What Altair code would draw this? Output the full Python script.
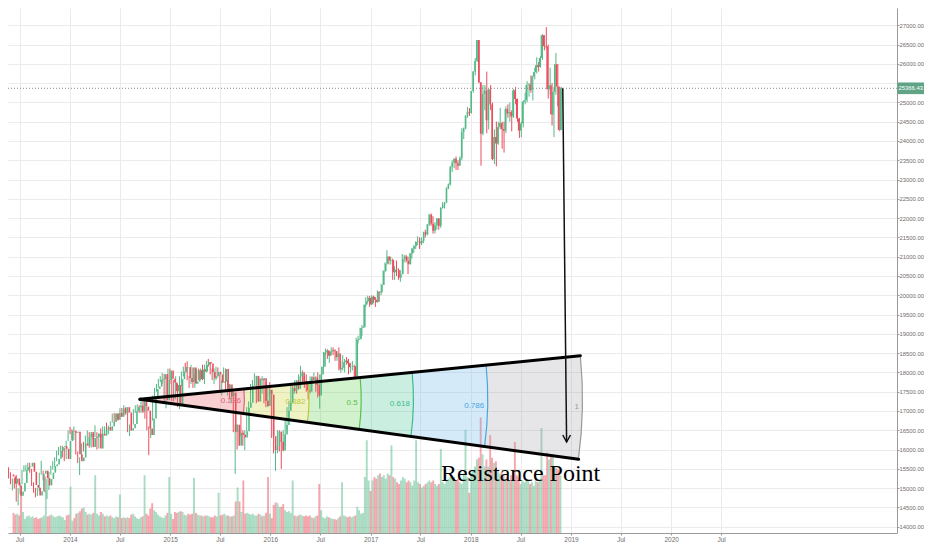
import math
import pandas as pd
import altair as alt

# ---------------- weekly candles (DJIA), one row per week ----------------
week_start = "2013-05-22"
first_open = 15354

close_2013 = [15303, 15116, 15248, 15070, 14800, 14910, 15136, 15464, 15544, 15559, 15658, 15425, 15081, 15010, 14810,
              14922, 15376, 15452, 15258, 15072, 15237, 15400, 15570, 15615, 15761, 15962, 16064, 16086, 16020, 15755,
              16221, 16479, 16469]
high_2013 = [15542, 15410, 15250, 15260, 15340, 15000, 15140, 15470, 15590, 15600, 15660, 15650, 15500, 15150, 15000,
             15000, 15400, 15709, 15450, 15300, 15250, 15420, 15580, 15700, 15800, 15970, 16070, 16100, 16100, 16050,
             16230, 16500, 16590]
low_2013 = [15250, 15100, 14940, 14990, 14650, 14550, 14850, 15100, 15420, 15440, 15450, 15400, 15060, 14880, 14760,
            14800, 14950, 15350, 15200, 14900, 14720, 14950, 15350, 15480, 15550, 15700, 15850, 15950, 15800, 15700,
            15750, 16250, 16400]
vol_2013 = [115, 105, 110, 100, 230, 120, 80, 95, 100, 90, 95, 85, 90, 80, 85, 90, 100, 240, 95, 100,
            105, 95, 90, 95, 100, 95, 90, 75, 100, 105, 265, 70, 85]

close_2014 = [16437, 16459, 15879, 15699, 15794, 16154, 16103, 16322, 16453, 16065, 16302, 16323, 16412, 16027, 16409,
              16361, 16512, 16584, 16491, 16606, 16717, 16924, 16776, 16947, 16851, 17068, 16944, 17100, 16961, 16493,
              16553, 16663, 17001, 17098, 17137, 16988, 17280, 17113, 17010, 16544, 16380, 16805, 17390, 17573, 17634,
              17810, 17828, 17958, 17280, 17804, 18053, 17833]
high_2014 = [16530, 16600, 16500, 15950, 15800, 16160, 16200, 16360, 16500, 16450, 16400, 16400, 16630, 16450, 16420,
             16550, 16600, 16600, 16700, 16620, 16730, 16930, 16950, 16950, 16950, 17075, 17080, 17150, 17100, 17000,
             16650, 16750, 17050, 17150, 17170, 17150, 17350, 17300, 17200, 17100, 16600, 16850, 17400, 17600, 17700,
             17830, 17900, 17990, 17950, 17900, 18100, 18100]
low_2014 = [16250, 16250, 15870, 15650, 15340, 15780, 15950, 16050, 16150, 16050, 16050, 16250, 16380, 16000, 16050,
            16300, 16350, 16400, 16400, 16400, 16600, 16700, 16700, 16750, 16750, 16850, 16850, 16900, 16900, 16450,
            16350, 16500, 16650, 16950, 17000, 16950, 16950, 16950, 16800, 16500, 15855, 16300, 16750, 17300, 17500,
            17600, 17750, 17700, 17250, 17068, 17800, 17700]
vol_2014 = [110, 115, 125, 140, 145, 120, 105, 110, 105, 115, 330, 110, 100, 120, 110, 95, 100, 95, 100, 90,
            85, 95, 90, 220, 85, 90, 85, 90, 85, 105, 110, 95, 85, 80, 90, 95, 330, 110, 100, 140,
            170, 130, 120, 105, 95, 90, 85, 100, 115, 320, 110, 80]

close_2015 = [17737, 17511, 17672, 17165, 17824, 18019, 18140, 18133, 17856, 17749, 18128, 17712, 17763, 18057, 17826,
              18080, 18024, 18191, 18272, 18232, 18010, 17849, 17898, 18015, 17947, 17730, 17760, 18086, 17568, 17690,
              17373, 17477, 16460, 16643, 16102, 16433, 16385, 16315, 16472, 17084, 17216, 17647, 17664, 17910, 17245,
              17824, 17798, 17848, 17265, 17128, 17553, 17425]
high_2015 = [17900, 17800, 17900, 17700, 17900, 18030, 18150, 18250, 18290, 17900, 18200, 18130, 17950, 18080, 18100,
             18100, 18200, 18200, 18300, 18351, 18250, 18100, 18100, 18150, 18130, 17950, 17800, 18130, 18100, 17800,
             17700, 17600, 17500, 16650, 16650, 16500, 16900, 16500, 16500, 17100, 17250, 17700, 17800, 17980, 17850,
             17900, 17850, 17900, 17850, 17750, 17600, 17750]
low_2015 = [17250, 17250, 17300, 17100, 17050, 17650, 17900, 18000, 17800, 17600, 17700, 17600, 17600, 17700, 17800,
            17800, 17800, 17700, 18000, 18150, 17950, 17800, 17700, 17800, 17900, 17470, 17400, 17750, 17550, 17400,
            17300, 17200, 16450, 15370, 16000, 16100, 16350, 16100, 15980, 16500, 16900, 17100, 17450, 17650, 17200,
            17250, 17650, 17450, 17200, 17100, 17100, 17400]
vol_2015 = [120, 115, 120, 125, 120, 105, 100, 110, 105, 110, 315, 115, 105, 100, 100, 95, 100, 100, 95, 90,
            90, 100, 95, 230, 100, 105, 110, 100, 100, 95, 95, 100, 180, 260, 180, 120, 300, 110, 115, 110,
            105, 110, 100, 100, 110, 105, 95, 100, 115, 320, 110, 85]

close_2016 = [16346, 15988, 16094, 16466, 16205, 15974, 16392, 16640, 17007, 17213, 17602, 17516, 17793, 17577, 17897,
              18003, 17774, 17741, 17535, 17501, 17873, 17807, 17865, 17675, 17400, 17949, 18147, 18516, 18570, 18432,
              18543, 18576, 18552, 18395, 18492, 18085, 18124, 18261, 18308, 18240, 18138, 18145, 18161, 17888, 18847,
              18868, 19152, 19171, 19757, 19843, 19934, 19763]
high_2016 = [17400, 16600, 16100, 16500, 16500, 16250, 16500, 16800, 17100, 17250, 17650, 17650, 17800, 17800, 17950,
             18170, 18050, 17900, 17950, 17700, 17900, 17900, 18000, 17900, 18000, 17950, 18150, 18530, 18620, 18600,
             18550, 18650, 18650, 18600, 18550, 18650, 18300, 18450, 18350, 18400, 18350, 18250, 18300, 18200, 18900,
             18950, 19160, 19230, 19760, 19950, 19990, 19980]
low_2016 = [16300, 15900, 15450, 15900, 15950, 15500, 15950, 16100, 16500, 16800, 17150, 17450, 17450, 17450, 17550,
            17850, 17700, 17600, 17500, 17300, 17450, 17700, 17800, 17500, 17350, 17060, 17700, 18100, 18450, 18350,
            18250, 18450, 18450, 18300, 18300, 18050, 17990, 18050, 18000, 18200, 17950, 18000, 18050, 17850, 17900,
            18750, 18850, 18950, 19150, 19700, 19800, 19700]
vol_2016 = [160, 175, 170, 150, 150, 165, 130, 120, 125, 115, 300, 100, 95, 100, 105, 100, 95, 100, 95, 100,
            90, 85, 95, 100, 280, 130, 90, 85, 95, 90, 85, 80, 80, 75, 85, 95, 290, 100, 95, 90,
            95, 90, 95, 100, 150, 130, 110, 115, 320, 530, 300, 240]

close_2017 = [19964, 19886, 19827, 20094, 20071, 20269, 20624, 20821, 21005, 20903, 20914, 20597, 20663, 20656, 20453,
              20548, 20941, 21007, 20897, 20805, 21080, 21206, 21272, 21384, 21395, 21350, 21414, 21638, 21580, 21830,
              22092, 21858, 21675, 21814, 21988, 21798, 22268, 22350, 22405, 22773, 22871, 23329, 23434, 23539, 23422,
              23358, 23558, 24231, 24329, 24651, 24754, 24719]
high_2017 = [19999, 19990, 19950, 20125, 20100, 20300, 20650, 20850, 21169, 21000, 21000, 20950, 20750, 20900, 20700,
             20650, 21070, 21050, 21050, 21000, 21100, 21230, 21300, 21400, 21530, 21500, 21500, 21650, 21700, 21850,
             22100, 22120, 22050, 21900, 22000, 22000, 22280, 22420, 22420, 22800, 22900, 23350, 23500, 23550, 23600,
             23500, 23600, 24330, 24350, 24670, 24880, 24850]
low_2017 = [19750, 19800, 19700, 19800, 19830, 20000, 20300, 20600, 20800, 20800, 20800, 20400, 20400, 20500, 20400,
            20350, 20700, 20850, 20850, 20550, 20800, 20950, 21100, 21200, 21300, 21200, 21300, 21350, 21500, 21550,
            21800, 21800, 21600, 21600, 21700, 21700, 21750, 22250, 22250, 22400, 22750, 22850, 23200, 23300, 23250,
            23250, 23400, 23500, 24050, 24300, 24600, 24650]
vol_2017 = [300, 320, 310, 330, 340, 320, 330, 310, 340, 330, 500, 320, 310, 290, 280, 300, 320, 310, 290, 300,
            290, 270, 300, 530, 290, 280, 260, 270, 280, 290, 300, 290, 300, 280, 270, 280, 480, 290, 280, 300,
            310, 320, 330, 320, 300, 310, 290, 280, 340, 590, 320, 230]

close_2018 = [25296, 25803, 26071, 26616, 25521, 24190, 25219, 25310, 24538, 25336, 24946, 23533, 24103, 23933, 24360,
              24463, 24311, 24263, 24831, 24715, 24753, 24635, 25317, 25090, 24581, 24271, 24456, 25019, 25058, 25451,
              25463, 25313, 25669, 25790, 25965, 25917, 26155, 26744, 26458, 26447, 25340, 25444, 24689, 25271, 25989,
              25413, 24286, 25366.43]
high_2018 = [25300, 25810, 26150, 26620, 26600, 25520, 25450, 25450, 25800, 25350, 25450, 25000, 24300, 24500, 24500,
             24860, 24500, 24500, 24900, 24950, 25000, 24800, 25350, 25400, 25100, 24600, 24500, 25050, 25250, 25550,
             25500, 25700, 25700, 25900, 26170, 26050, 26200, 26770, 26700, 26951, 26500, 25900, 25500, 25400, 26280,
             26000, 25100, 25400]
low_2018 = [24800, 25250, 25700, 26050, 25500, 23360, 24150, 24800, 24200, 24300, 24800, 23500, 23400, 23344, 23900,
            24300, 23800, 23700, 24200, 24600, 24500, 24250, 24600, 24950, 24500, 24080, 24100, 24350, 24950, 25000,
            25150, 25250, 25050, 25600, 25750, 25800, 25900, 26100, 26350, 26400, 25100, 25200, 24400, 24100, 25200,
            24900, 24250, 24300]
vol_2018 = [340, 360, 380, 420, 430, 660, 450, 380, 420, 380, 560, 430, 400, 410, 360, 340, 350, 330, 310, 320,
            300, 330, 310, 520, 330, 320, 280, 300, 290, 310, 300, 280, 290, 270, 300, 290, 300, 600, 330, 330,
            460, 420, 440, 450, 380, 370, 360, 330]

closes = close_2013 + close_2014 + close_2015 + close_2016 + close_2017 + close_2018
highs = high_2013 + high_2014 + high_2015 + high_2016 + high_2017 + high_2018
lows = low_2013 + low_2014 + low_2015 + low_2016 + low_2017 + low_2018
vols = vol_2013 + vol_2014 + vol_2015 + vol_2016 + vol_2017 + vol_2018

# ---------------- drawing annotations (anchor points) ----------------
fan_dates = ["2014-09-13", "2019-02-04", "2019-01-29"]   # apex, upper end, lower end
fan_prices = [17303, 18433, 15747]
fib_levels = [0.236, 0.382, 0.5, 0.618, 0.786, 1]
fib_names = ["0.236", "0.382", "0.5", "0.618", "0.786", "1"]
fib_colors = ["#e8636b", "#c9d534", "#5dcc4d", "#3fc495", "#72b8ec", "#a4a4ac"]
fib_opacity = [0.3, 0.3, 0.28, 0.28, 0.3, 0.28]
fib_text_colors = ["#e0607a", "#bcc83a", "#5cbf4a", "#3dbb8a", "#48a5e0", "#999999"]
arrow_dates = ["2018-12-02", "2018-12-16"]
arrow_prices = [25366.43, 16196]
last_price = 25366.43
note_text = "Resistance Point"
note_date = "2017-09-14"
note_price = 15185
x_tick_dates = ["2013-07-01", "2014-01-01", "2014-07-01", "2015-01-01", "2015-07-01", "2016-01-01", "2016-07-01",
                "2017-01-01", "2017-07-01", "2018-01-01", "2018-07-01", "2019-01-01", "2019-07-01", "2020-01-01",
                "2020-07-01"]
y_ticks = [14000, 14500, 15000, 15500, 16000, 16500, 17000, 17500, 18000, 18500, 19000, 19500, 20000, 20500,
           21000, 21500, 22000, 22500, 23000, 23500, 24000, 24500, 25000, 25500, 26000, 26500, 27000]

UP, DOWN = "#53b987", "#eb4d5c"
AXIS_FONT = "Liberation Sans"

# ---------------- build tables ----------------
n = len(closes)
assert len(highs) == n and len(lows) == n and len(vols) == n
dates = pd.date_range(week_start, periods=n, freq="7D")
opens = [first_open] + closes[:-1]
rows = []
for d, o, h, l, c, v in zip(dates, opens, highs, lows, closes, vols):
    rows.append(dict(date=d.strftime("%Y-%m-%d"), open=o, high=max(h, o, c), low=min(l, o, c), close=c,
                     vol=v, dir="up" if c >= o else "down"))
candles = pd.DataFrame(rows)

# ---------------- scales ----------------
W, H = 889, 525
T0 = pd.Timestamp("2013-05-20", tz="UTC")
T1 = pd.Timestamp("2019-01-01", tz="UTC")
PX_PER_DAY = 563 / ((T1 - T0) / pd.Timedelta(days=1))
T2 = T0 + pd.Timedelta(days=W / PX_PER_DAY)
PMIN, PMAX = 13837, 27448


def ms(ts):
    return int(ts.value // 10**6)


def utc(s):
    return pd.Timestamp(s, tz="UTC")


def px(ts):
    return W * ((ts - T0) / (T2 - T0))


def inv_px(x):
    return T0 + (T2 - T0) * (x / W)


def py(p):
    return H * (PMAX - p) / (PMAX - PMIN)


def inv_py(y):
    return PMAX - y * (PMAX - PMIN) / H


def iso(ts):
    return ts.strftime("%Y-%m-%dT%H:%M:%SZ")


xs = alt.Scale(type="utc", domain=[ms(T0), ms(T2)], nice=False)
ys = alt.Scale(domain=[PMIN, PMAX], zero=False, nice=False)
vs = alt.Scale(domain=[0, 3000], nice=False, zero=True)
dir_scale = alt.Scale(domain=["up", "down"], range=[UP, DOWN])

AX = dict(domainColor="#9a9a9a", tickColor="#9a9a9a", tickSize=2, labelFont=AXIS_FONT,
          labelColor="#6e6e6e", title=None, labelOverlap=False)
xaxis = alt.Axis(values=[ms(utc(d)) for d in x_tick_dates],
                 labelExpr="utcmonth(datum.value) == 0 ? utcFormat(datum.value, '%Y') : 'Jul'",
                 grid=True, gridColor="#ebebeb", labelPadding=1, labelFlush=False, labelFontSize=6.5, **AX)
yaxis = alt.Axis(orient="right", values=y_ticks,
                 labelExpr="datum.value == 25500 ? '' : format(datum.value, '.2f')",
                 grid=True, gridColor="#ebebeb", labelPadding=0, labelFontSize=5.9, **AX)

# ---------------- fan geometry (pixel space of the scales above) ----------------
ax_, ay_ = px(utc(fan_dates[0])), py(fan_prices[0])
ux, uy = px(utc(fan_dates[1])), py(fan_prices[1])
lx, ly = px(utc(fan_dates[2])), py(fan_prices[2])
R = math.hypot(ux - ax_, uy - ay_)
th1 = math.atan2(ux - ax_, -(uy - ay_))
th2 = math.atan2(lx - ax_, -(ly - ay_))
thm = (th1 + th2) / 2

apex_df = pd.DataFrame(dict(date=[fan_dates[0]], price=[fan_prices[0]]))


def X(f):
    return alt.X(f, scale=xs, axis=None)


def Y(f):
    return alt.Y(f, scale=ys, axis=None)


band_layers, ring_layers, lab_rows = [], [], []
prev = 0.0
for lev, name, col, op, tcol in zip(fib_levels, fib_names, fib_colors, fib_opacity, fib_text_colors):
    band_layers.append(alt.Chart(apex_df).mark_arc(
        theta=th1, theta2=th2, radius=lev * R, radius2=prev * R, fill=col, fillOpacity=op, strokeWidth=0
    ).encode(x=X("date:T"), y=Y("price:Q")))
    ring_layers.append(alt.Chart(apex_df).mark_arc(
        theta=th1, theta2=th2, radius=lev * R + 0.6, radius2=lev * R - 0.6, fill=tcol, fillOpacity=1,
        strokeWidth=0
    ).encode(x=X("date:T"), y=Y("price:Q")))
    r = lev * R - 3.5
    lab_rows.append(dict(date=iso(inv_px(ax_ + r * math.sin(thm))), price=inv_py(ay_ - r * math.cos(thm)),
                         txt=name, col=tcol))
    prev = lev
labs_df = pd.DataFrame(lab_rows)
lines_df = pd.DataFrame(dict(d1=[fan_dates[0], fan_dates[0]], p1=[fan_prices[0], fan_prices[0]],
                             d2=[fan_dates[1], fan_dates[2]], p2=[fan_prices[1], fan_prices[2]]))
arrow_df = pd.DataFrame(dict(d1=[arrow_dates[0]], p1=[arrow_prices[0]], d2=[arrow_dates[1]], p2=[arrow_prices[1]]))
price_df = pd.DataFrame(dict(price=[last_price], label=[f"{last_price:.2f}"]))
note_df = pd.DataFrame(dict(date=[note_date], price=[note_price], txt=[note_text]))

# ---------------- layers ----------------
axes_layer = alt.Chart(candles).mark_rule(opacity=0).encode(
    x=alt.X("date:T", scale=xs, axis=xaxis),
    y=alt.Y("close:Q", scale=ys, axis=yaxis),
)

vol = alt.Chart(candles).mark_bar(width=1.9, opacity=0.5, clip=True).encode(
    x=X("date:T"),
    y=alt.Y("vol:Q", scale=vs, axis=None),
    color=alt.Color("dir:N", scale=dir_scale, legend=None),
)

wick = alt.Chart(candles).mark_rule(strokeWidth=1, clip=True).encode(
    x=X("date:T"), y=Y("low:Q"), y2="high:Q",
    color=alt.Color("dir:N", scale=dir_scale, legend=None),
)
body = alt.Chart(candles).mark_bar(width=1.6, clip=True).encode(
    x=X("date:T"), y=Y("open:Q"), y2="close:Q",
    color=alt.Color("dir:N", scale=dir_scale, legend=None),
)

fan_lines = alt.Chart(lines_df).mark_rule(color="black", strokeWidth=3, strokeCap="round").encode(
    x=X("d1:T"), y=Y("p1:Q"), x2="d2:T", y2="p2:Q")

fib_labels = alt.Chart(labs_df).mark_text(align="right", baseline="middle", fontSize=8,
                                          font="Liberation Sans").encode(
    x=X("date:T"), y=Y("price:Q"), text="txt:N", color=alt.Color("col:N", scale=None))

arrow_line = alt.Chart(arrow_df).mark_rule(color="#111111", strokeWidth=1.5).encode(
    x=X("d1:T"), y=Y("p1:Q"), x2="d2:T", y2="p2:Q")
arrow_head = alt.Chart(arrow_df).mark_point(shape="M-0.55,-1L0,0L0.55,-1", size=196, filled=False,
                                            color="#111111", strokeWidth=1.5, opacity=1).encode(
    x=X("d2:T"), y=Y("p2:Q"))

dotted = alt.Chart(price_df).mark_rule(color="#8a8a8a", strokeWidth=1, strokeDash=[1, 2]).encode(
    y=Y("price:Q"), x=alt.value(0), x2=alt.value(W))
box = alt.Chart(price_df).mark_point(shape="M-1,-0.44L1,-0.44L1,0.44L-1,0.44Z", size=702, filled=True,
                                     color="#5fa585", opacity=1, strokeWidth=0).encode(
    x=alt.value(902.75), y=Y("price:Q"))
box_text = alt.Chart(price_df).mark_text(color="white", fontSize=5.9, font=AXIS_FONT, align="center",
                                         baseline="middle").encode(
    x=alt.value(902.75), y=Y("price:Q"), text="label:N")

note = alt.Chart(note_df).mark_text(align="left", baseline="alphabetic", font="Liberation Serif", fontSize=24,
                                    color="black").encode(x=X("date:T"), y=Y("price:Q"), text="txt:N")

chart = alt.layer(axes_layer, vol, *band_layers, wick, body, *ring_layers, fan_lines, fib_labels,
                  arrow_line, arrow_head, dotted, box, box_text, note).resolve_scale(
    x="independent", y="independent").properties(
    width=W, height=H,
    autosize=alt.AutoSizeParams(type="none"),
    padding={"left": 0, "top": 0, "right": 27, "bottom": 9},
    background="white",
).configure_view(stroke=None)

chart.save("out.html", embed_options={"renderer": "svg", "actions": False})
